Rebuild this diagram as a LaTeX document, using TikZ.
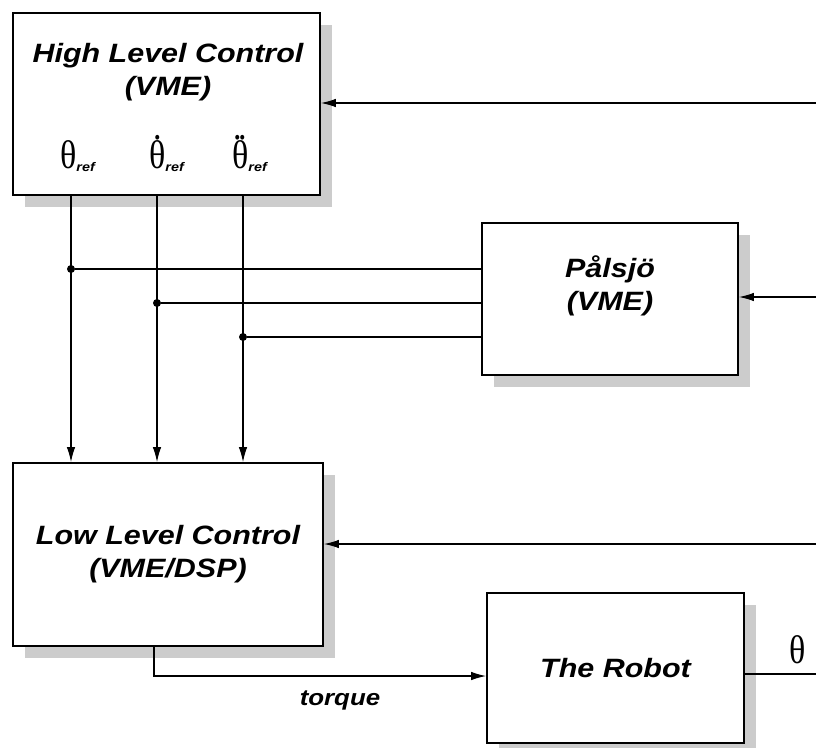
\documentclass[tikz,border=0pt]{standalone}
\usepackage{fontspec}
\setmainfont{Liberation Sans}
\newfontfamily\boxfont[FakeStretch=1.15]{Liberation Sans}
\newfontfamily\greekfont[FakeStretch=0.85]{Liberation Serif}
\usetikzlibrary{arrows.meta, shadows}

% theta with n dots above it, and the bold italic subscript "ref"
\newcommand{\thdots}[1]{\ooalign{θ\cr\hidewidth\raisebox{0.72em}{#1}\hidewidth\cr}}
\newcommand{\thref}[1]{{\greekfont\fontsize{40}{40}\selectfont #1}\raisebox{-3pt}{\boxfont\bfseries\itshape\fontsize{12.5}{12.5}\selectfont ref}}

\begin{document}
\begin{tikzpicture}[x=1pt, y=-1pt,
      box/.style={draw, line width=1.8pt, fill=white, inner sep=0pt,
                  drop shadow={shadow xshift=12pt, shadow yshift=-12pt, fill=gray!40, opacity=1}},
      title/.style={align=center, font=\boxfont\bfseries\itshape\fontsize{26.5}{33}\selectfont},
      ar/.style={-{Latex[length=15pt, width=8.5pt]}, line width=1.2pt},
      wire/.style={line width=1.2pt},
      dot/.style={circle, fill, inner sep=0pt, minimum size=8pt}]
    \useasboundingbox (0,0) rectangle (816,747);

    % blocks
    \node[box, minimum width=307pt, minimum height=182pt] (hlc) at (166.5,104) {};
    \node[box, minimum width=256pt, minimum height=152pt] (pal) at (610,299) {};
    \node[box, minimum width=310pt, minimum height=183pt, title] (llc) at (168,554.5) {Low Level Control\\(VME/DSP)};
    \node[box, minimum width=257pt, minimum height=150pt, title] (rob) at (615.5,668) {The Robot};

    \node[title] (hlctxt) at (168,72) {High Level Control\\(VME)};
    \node[title] (paltxt) at (610,286) {Pålsjö\\(VME)};

    % reference signals
    \node[anchor=base west, inner sep=0pt] (th1) at (60,168) {\thref{θ}};
    \node[anchor=base west, inner sep=0pt] (th2) at (149,168) {\thref{\thdots{.}}};
    \node[anchor=base west, inner sep=0pt] (th3) at (232,168) {\thref{\thdots{.\kern-0.08em.}}};

    \coordinate (c1) at (71,0);
    \coordinate (c2) at (157,0);
    \coordinate (c3) at (243,0);
    \draw[ar] (hlc.south -| c1) -- (llc.north -| c1);
    \draw[ar] (hlc.south -| c2) -- (llc.north -| c2);
    \draw[ar] (hlc.south -| c3) -- (llc.north -| c3);

    \node[dot] (j1) at (71,269) {};
    \node[dot] (j2) at (157,303) {};
    \node[dot] (j3) at (243,337) {};
    \draw[wire] (j1) -- (j1 -| pal.west);
    \draw[wire] (j2) -- (j2 -| pal.west);
    \draw[wire] (j3) -- (j3 -| pal.west);

    % feedback from the right
    \coordinate (e1) at (816,103);
    \coordinate (e2) at (816,297);
    \coordinate (e3) at (816,544);
    \coordinate (e4) at (816,674);
    \draw[ar] (e1) -- (e1 -| hlc.east);
    \draw[ar] (e2) -- (e2 -| pal.east);
    \draw[ar] (e3) -- (e3 -| llc.east);
    \draw[wire] (e4 -| rob.east) -- (e4);
    \node[font=\greekfont\fontsize{40}{40}\selectfont] (th) at (798,650) {θ};

    % torque
    \coordinate (t1) at (154,676);
    \draw[ar] (llc.south -| t1) -- (t1) -- (t1 -| rob.west);
    \node[font=\boxfont\bfseries\itshape\fontsize{22.5}{22.5}\selectfont] (tq) at (340,700) {torque};
\end{tikzpicture}
\end{document}
